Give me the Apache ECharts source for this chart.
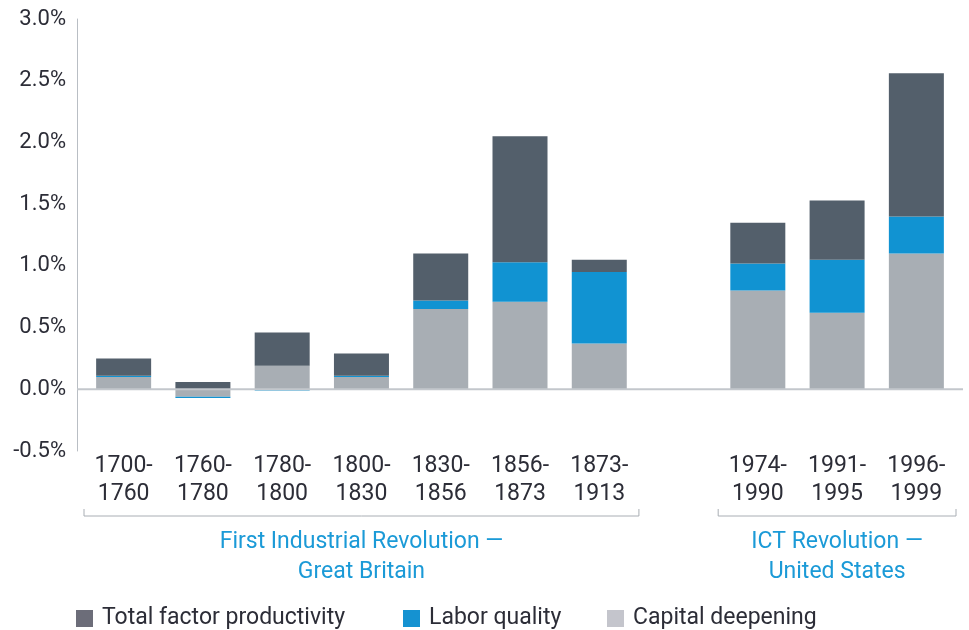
<!DOCTYPE html>
<html>
<head>
<meta charset="utf-8">
<title>Growth accounting</title>
<script src="https://cdn.jsdelivr.net/npm/echarts@6/dist/echarts.min.js"></script>
<style>
    html,body{margin:0;padding:0;background:#fff;}
    #main{width:969px;height:630px;}
</style>
</head>
<body>
<div id="main"></div>
<script>
/*数据*/
var categories = ['1700-\n1760', '1760-\n1780', '1780-\n1800', '1800-\n1830', '1830-\n1856', '1856-\n1873', '1873-\n1913', '', '1974-\n1990', '1991-\n1995', '1996-\n1999'];
var capitalDeepening = [0.10, -0.06, 0.19, 0.10, 0.65, 0.71, 0.37, '-', 0.80, 0.62, 1.10];
var laborQuality = [0.01, -0.01, -0.01, 0.01, 0.07, 0.32, 0.58, '-', 0.22, 0.43, 0.30];
var totalFactor = [0.14, 0.06, 0.27, 0.18, 0.38, 1.02, 0.10, '-', 0.33, 0.48, 1.16];
var groupNames = ['First Industrial Revolution \u2014\nGreat Britain', 'ICT Revolution \u2014\nUnited States'];
var groupRanges = [[0, 6], [8, 10]];
var yTicks = {min: -0.5, max: 3.0, interval: 0.5};

var FONT = 'Roboto';
var TEXT_COLOR = '#2c2d37';

var myChart = echarts.init(document.getElementById('main'));

function legendOf(name, color, left){
    return {
        left: left,
        top: 607,
        padding: 0,
        itemWidth: 17,
        itemHeight: 17,
        icon: 'rect',
        selectedMode: false,
        textStyle: {fontFamily: FONT, fontSize: 23, color: TEXT_COLOR, padding: [0, 0, 0, 4]},
        data: [{name: name, itemStyle: {color: color}}]
    };
}

var option = {
    animation: false,
    grid: {left: 84, right: 13, top: 19, bottom: 179},
    legend: [
        legendOf('Total factor productivity', '#6c6d79', 76),
        legendOf('Labor quality', '#1592d1', 403),
        legendOf('Capital deepening', '#c4c5cc', 607)
    ],
    xAxis: {
        type: 'category',
        data: categories,
        axisLine: {show: false},
        axisTick: {show: false},
        axisLabel: {
            interval: 0,
            margin: 1,
            fontFamily: FONT,
            fontSize: 23,
            lineHeight: 28,
            color: TEXT_COLOR
        }
    },
    yAxis: {
        type: 'value',
        min: yTicks.min,
        max: yTicks.max,
        interval: yTicks.interval,
        offset: 7,
        axisLine: {show: true, lineStyle: {color: '#b9bec4', width: 1}},
        axisTick: {show: false},
        splitLine: {show: false},
        axisLabel: {
            margin: 11,
            fontFamily: FONT,
            fontSize: 22,
            color: TEXT_COLOR,
            formatter: function(v){ return v.toFixed(1) + '%'; }
        }
    },
    series: [
        {name: 'Capital deepening', type: 'bar', stack: 'g', barWidth: 55, data: capitalDeepening, itemStyle: {color: '#a8aeb4'}},
        {name: 'Labor quality', type: 'bar', stack: 'g', barWidth: 55, data: laborQuality, itemStyle: {color: '#1193d2'}},
        {name: 'Total factor productivity', type: 'bar', stack: 'g', barWidth: 55, data: totalFactor, itemStyle: {color: '#535f6b'}}
    ]
};
myChart.setOption(option, true);

/*零线、分组括号和分组标题*/
function drawGroups(){
    var c0 = myChart.convertToPixel({xAxisIndex: 0}, 0);
    var c1 = myChart.convertToPixel({xAxisIndex: 0}, 1);
    var band = c1 - c0;
    var y0 = myChart.convertToPixel({yAxisIndex: 0}, 0);
    var els = [];
    els.push({
        type: 'line', z: 10,
        shape: {x1: 77, y1: y0, x2: 963, y2: y0},
        style: {stroke: '#c3c7cc', lineWidth: 2}
    });
    for (var i = 0; i < groupRanges.length; i++) {
        var x1 = myChart.convertToPixel({xAxisIndex: 0}, groupRanges[i][0]) - band / 2;
        var x2 = myChart.convertToPixel({xAxisIndex: 0}, groupRanges[i][1]) + band / 2;
        els.push({
            type: 'polyline',
            shape: {points: [[x1, 509], [x1, 516], [x2, 516], [x2, 509]]},
            style: {stroke: '#a9aeb4', lineWidth: 1, fill: null}
        });
        els.push({
            type: 'text',
            x: (x1 + x2) / 2,
            y: 527,
            style: {
                text: groupNames[i],
                fontFamily: FONT,
                fontSize: 23,
                lineHeight: 30,
                fill: '#1b9ad7',
                align: 'center',
                verticalAlign: 'top'
            }
        });
    }
    myChart.setOption({graphic: els});
}
drawGroups();

/*自适应*/
window.addEventListener('resize', function(){
    myChart.resize();
    drawGroups();
});
</script>
</body>
</html>
